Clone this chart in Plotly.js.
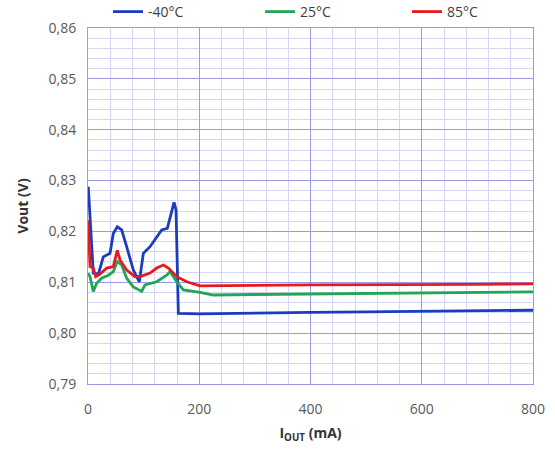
<!DOCTYPE html>
<html>
<head>
<meta charset="utf-8">
<script src="https://cdn.plot.ly/plotly-3.0.1.min.js"></script>
<style>html,body{margin:0;padding:0;background:#fff;}#chart{width:555px;height:449px;}</style>
</head>
<body>
<div id="chart"></div>
<script>
const seriesNames = ['-40°C', '25°C', '85°C'];
const seriesColors = ['#1a3dbf', '#22a656', '#e8191e'];

const xBlue = [0.5, 9.5, 18.6, 27.5, 39.6, 45.5, 52.7, 60.5, 69.5, 81.5, 92.3, 99.5, 111.5, 132.5, 142.6, 147.5, 154.7, 158.3, 162.4, 200, 300, 400, 500, 600, 700, 800];
const yBlue = [0.8288, 0.8118, 0.8116, 0.8150, 0.8157, 0.8196, 0.8209, 0.8203, 0.8170, 0.8124, 0.8101, 0.8157, 0.8170, 0.8203, 0.8206, 0.8229, 0.8257, 0.8242, 0.8039, 0.8038, 0.8040, 0.8041, 0.8042, 0.8043, 0.8044, 0.8045];

const xGreen = [0.5, 3.6, 9.5, 15.5, 24.5, 36.5, 45.5, 52.7, 60.5, 69.5, 81.5, 96.5, 102.5, 123.5, 141.5, 147.5, 159.5, 171.5, 201.5, 225, 300, 400, 500, 600, 700, 800];
const yGreen = [0.8118, 0.8111, 0.8082, 0.8098, 0.8108, 0.8114, 0.8121, 0.8141, 0.8134, 0.8108, 0.8091, 0.8082, 0.8095, 0.8101, 0.8114, 0.8121, 0.8101, 0.8085, 0.8080, 0.8075, 0.8076, 0.8077, 0.8078, 0.8079, 0.8080, 0.8081];

const xRed = [0.5, 3.6, 9.5, 13.8, 21.6, 33.6, 45.5, 52.7, 57.5, 69.5, 84.5, 96.5, 111.5, 123.5, 135.5, 144.5, 159.5, 177.5, 201.5, 237, 300, 400, 500, 600, 700, 800];
const yRed = [0.8222, 0.8131, 0.8128, 0.8111, 0.8116, 0.8128, 0.8131, 0.8163, 0.8144, 0.8124, 0.8111, 0.8112, 0.8118, 0.8128, 0.8134, 0.8128, 0.8111, 0.8101, 0.8093, 0.8093, 0.8094, 0.8095, 0.8095, 0.8096, 0.8096, 0.8097];

const xTicks = [0, 200, 400, 600, 800];
const yTicks = [0.79, 0.80, 0.81, 0.82, 0.83, 0.84, 0.85, 0.86];
const yTickText = ['0,79', '0,80', '0,81', '0,82', '0,83', '0,84', '0,85', '0,86'];

const xs = [xBlue, xGreen, xRed];
const ys = [yBlue, yGreen, yRed];
const legendIds = ['legend', 'legend2', 'legend3'];
const traces = seriesNames.map((n, i) => ({
  x: xs[i], y: ys[i], name: n, type: 'scatter', mode: 'lines',
  line: {color: seriesColors[i], width: 2.8}, legend: legendIds[i]
}));

const major = '#9a9ae6';
const minorC = '#d6d6f3';
const font = {family: 'Open Sans, sans-serif', size: 14, color: '#595959'};
const legendX = [108, 260, 407];

const layout = {
  width: 555, height: 449,
  margin: {l: 88, r: 22, t: 28, b: 65},
  paper_bgcolor: '#fff', plot_bgcolor: '#fff',
  font: font,
  showlegend: true,
  xaxis: {
    range: [0, 800], tickvals: xTicks, ticks: '', showline: true, mirror: true,
    linecolor: major, gridcolor: major, zeroline: false,
    minor: {dtick: 40, showgrid: true, gridcolor: minorC},
    tickfont: font, ticklabelstandoff: 12,
    title: {text: '<b>I<sub>OUT</sub> (mA)</b>', font: {family: 'Open Sans, sans-serif', size: 14, color: '#333'}, standoff: 11}
  },
  yaxis: {
    range: [0.79, 0.86], tickvals: yTicks, ticktext: yTickText, ticks: '', showline: true, mirror: true,
    linecolor: major, gridcolor: major, zeroline: false,
    minor: {dtick: 0.002, showgrid: true, gridcolor: minorC},
    tickfont: font, ticklabelstandoff: 8,
    title: {text: '<b>Vout (V)</b>', font: {family: 'Open Sans, sans-serif', size: 14, color: '#333'}, standoff: 16}
  }
};
legendIds.forEach((id, i) => {
  layout[id] = {orientation: 'h', xref: 'container', yref: 'container',
    x: legendX[i] / 555, y: 1 - 12 / 449, xanchor: 'left', yanchor: 'middle',
    itemwidth: 30, bgcolor: 'rgba(0,0,0,0)',
    font: {family: 'Open Sans, sans-serif', size: 14, color: '#404040'}};
});

Plotly.newPlot('chart', traces, layout, {displayModeBar: false, staticPlot: true});
</script>
</body>
</html>
